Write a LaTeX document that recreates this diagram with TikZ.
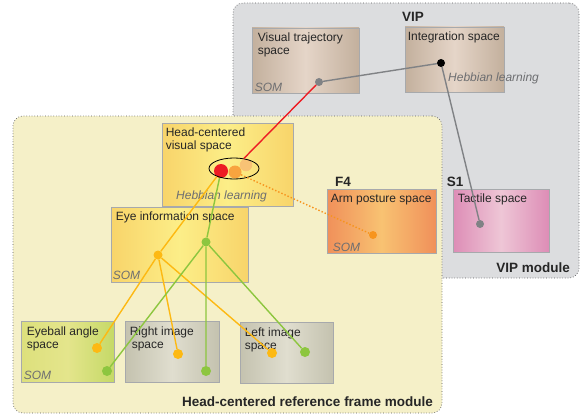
\documentclass[tikz,border=0pt]{standalone}
\usepackage{fontspec}
\setmainfont{Liberation Sans}
\usepackage{xcolor}
\usetikzlibrary{positioning,shapes.geometric}

\definecolor{vipbg}{HTML}{DCDDDF}
\definecolor{hcbg}{HTML}{F5F0C8}
\definecolor{dotline}{HTML}{58595B}
\definecolor{boxline}{HTML}{A7A9AC}
\definecolor{brownE}{HTML}{C3B09D}
\definecolor{brownC}{HTML}{E5D5C8}
\definecolor{yellE}{HTML}{F8D46A}
\definecolor{yellC}{HTML}{FCEE88}
\definecolor{oranE}{HTML}{F0905A}
\definecolor{oranC}{HTML}{F8C272}
\definecolor{pinkE}{HTML}{DD8DB6}
\definecolor{pinkC}{HTML}{EEC6D6}
\definecolor{limeL}{HTML}{DDE07C}
\definecolor{limeC}{HTML}{E4E58C}
\definecolor{limeR}{HTML}{C5D967}
\definecolor{grayE}{HTML}{C4C2AF}
\definecolor{grayC}{HTML}{E0DECF}
\definecolor{txtgray}{HTML}{6D6E71}
\definecolor{linkred}{HTML}{ED1C24}
\definecolor{linkyel}{HTML}{FDB913}
\definecolor{linkgrn}{HTML}{8DC63F}
\definecolor{linkora}{HTML}{F7941D}
\definecolor{linkgry}{HTML}{808285}
\definecolor{lightora}{HTML}{F8C275}

\begin{document}
\begin{tikzpicture}[x=1pt,y=-1pt,
    spacebox/.style={draw=boxline,line width=0.8pt,inner sep=0pt},
    boxtext/.style={inner sep=0pt,align=left,text=black!85,
      font=\fontsize{12}{13.3}\selectfont},
    note/.style={inner sep=0pt,text=txtgray,font=\fontsize{12}{13.3}\selectfont\itshape},
    title/.style={inner sep=0pt,text=black!85,font=\fontsize{13.5}{15}\selectfont\bfseries},
    dot/.style={circle,inner sep=0pt,minimum size=#1},
    dot/.default=9pt]
  \tikzstyle{module}=[draw=dotline,dotted,line width=0.7pt,rounded corners=10pt,inner sep=0pt]
  \tikzstyle{link}=[line width=1.4pt]
  \useasboundingbox (0,0) rectangle (585,417);

  % VIP module
  \node[module,fill=vipbg,minimum width=346pt,minimum height=275pt] (vipmod) at (406,140.5) {};
  \node[title] (vip) at (413,17) {VIP};
  \node[spacebox,left color=brownE,right color=brownE,middle color=brownC,
        minimum width=107pt,minimum height=65pt] (traj) at (305.5,60.5) {};
  \node[spacebox,left color=brownE,right color=brownE,middle color=brownC,
        minimum width=99pt,minimum height=65pt] (integ) at (454.5,59.5) {};
  \node[spacebox,left color=pinkE,right color=pinkE,middle color=pinkC,
        minimum width=96pt,minimum height=63pt] (tact) at (501,220.5) {};
  \node[boxtext,below right=5pt and 6pt of traj.north west] (trajtxt) {Visual trajectory\\space};
  \node[note,above right=2pt and 3pt of traj.south west] (trajsom) {SOM};
  \node[boxtext,below right=5pt and 3pt of integ.north west] (integtxt) {Integration space};
  \node[note,anchor=west] (integhebb) at (448,78) {Hebbian learning};
  \node[title] (s1) at (455,182) {S1};
  \node[boxtext,below right=5pt and 5pt of tact.north west] (tacttxt) {Tactile space};
  \node[title,anchor=east] (vipname) at (570,268) {VIP module};

  % head-centered module
  \node[module,fill=hcbg,minimum width=429pt,minimum height=297pt] (hcmod) at (227.5,264.5) {};
  \node[spacebox,left color=yellE,right color=yellE,middle color=yellC,
        minimum width=131pt,minimum height=83pt] (hcv) at (227.5,164.5) {};
  \node[spacebox,left color=yellE,right color=yellE,middle color=yellC,
        minimum width=137pt,minimum height=75pt] (eye) at (179.5,244.5) {};
  \node[spacebox,left color=oranE,right color=oranE,middle color=oranC,
        minimum width=109pt,minimum height=64pt] (arm) at (381.5,221) {};
  \node[spacebox,left color=limeL,right color=limeR,middle color=limeC,
        minimum width=93pt,minimum height=61pt] (ball) at (67.5,351.5) {};
  \node[spacebox,left color=grayE,right color=grayE,middle color=grayC,
        minimum width=94pt,minimum height=61pt] (rimg) at (172,351.5) {};
  \node[spacebox,left color=grayE,right color=grayE,middle color=grayC,
        minimum width=93pt,minimum height=61pt] (limg) at (286.5,352.5) {};

  \node[boxtext,below right=5pt and 4pt of hcv.north west] (hcvtxt) {Head-centered\\visual space};
  \node[note,anchor=west] (hcvhebb) at (176,196) {Hebbian learning};
  \node[boxtext,below right=5pt and 5pt of eye.north west] (eyetxt) {Eye information space};
  \node[note,above right=3pt and 2pt of eye.south west] (eyesom) {SOM};
  \node[title] (f4) at (343,182) {F4};
  \node[boxtext,below right=5pt and 4pt of arm.north west] (armtxt) {Arm posture space};
  \node[note,above right=2pt and 6pt of arm.south west] (armsom) {SOM};
  \node[boxtext,below right=6pt and 6pt of ball.north west] (balltxt) {Eyeball angle\\space};
  \node[note,above right=3pt and 3pt of ball.south west] (ballsom) {SOM};
  \node[boxtext,below right=6pt and 5pt of rimg.north west] (rimgtxt) {Right image\\\,space};
  \node[boxtext,below right=6pt and 5pt of limg.north west] (limgtxt) {Left image\\space};
  \node[title,anchor=east] (hcname) at (433,402) {Head-centered reference frame module};

  % units
  \node[dot=8pt,fill=linkgry] (trajdot) at (319,82) {};
  \node[dot=8pt,fill=black] (integdot) at (441,63) {};
  \node[dot=8pt,fill=linkgry] (tactdot) at (480,224) {};
  \node[dot=12.5pt,fill=lightora] (hcv3) at (246,165) {};
  \node[dot=13pt,fill=linkora!85] (hcv2) at (235,172) {};
  \node[dot=14pt,fill=linkred] (hcv1) at (221,171) {};
  \node[draw,ellipse,line width=0.8pt,minimum width=50pt,minimum height=21pt,inner sep=0pt] (grp) at (234,168.5) {};
  \node[dot=8pt,fill=linkora] (armdot) at (373,235) {};
  \node[dot,fill=linkyel] (eyeY) at (158,255) {};
  \node[dot,fill=linkgrn] (eyeG) at (206,242) {};
  \node[dot=10pt,fill=linkyel] (ballY) at (97,348) {};
  \node[dot=10pt,fill=linkgrn] (ballG) at (107,371) {};
  \node[dot=10pt,fill=linkyel] (rimgY) at (178,354) {};
  \node[dot=10pt,fill=linkgrn] (rimgG) at (206,371) {};
  \node[dot=10pt,fill=linkyel] (limgY) at (272,353) {};
  \node[dot=10pt,fill=linkgrn] (limgG) at (305,352) {};

  % connections
  \draw[link,linkgry] (trajdot) -- (integdot) -- (tactdot);
  \draw[link,linkred] (trajdot) -- (grp);
  \draw[link,linkora,dotted] (hcv2) -- (armdot);
  \draw[link,linkyel] (hcv1) -- (eyeY);
  \draw[link,linkgrn] (hcv1) -- (eyeG);
  \draw[link,linkyel] (eyeY) -- (ballY) (eyeY) -- (rimgY) (eyeY) -- (limgY);
  \draw[link,linkgrn] (eyeG) -- (ballG) (eyeG) -- (rimgG) (eyeG) -- (limgG);
\end{tikzpicture}
\end{document}
